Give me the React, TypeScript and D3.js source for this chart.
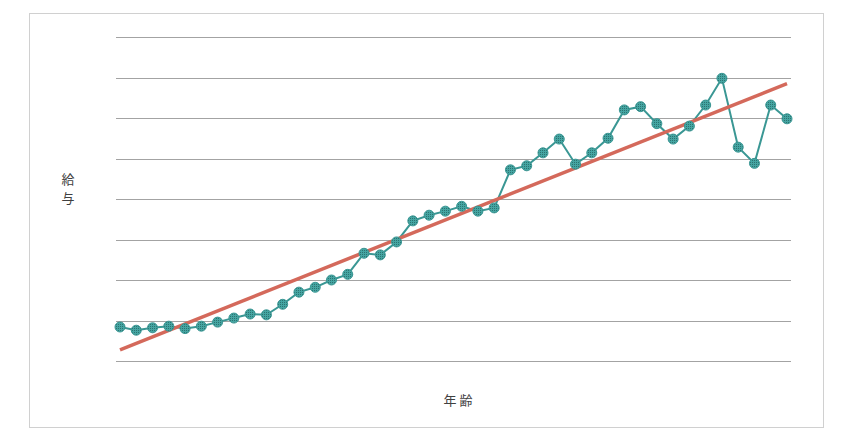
import React, { useRef, useEffect } from 'react';
import * as d3 from 'd3';

const ages = d3.range(20, 62);
const salary = [
  42, 38, 41, 43, 40, 43, 48, 53, 58, 57,
  70, 85, 91, 100, 107, 133, 131, 147, 173, 180,
  185, 191, 185, 189, 236, 241, 257, 274, 243, 257,
  275, 310, 314, 293, 274, 290, 316, 349, 264, 244,
  316, 299,
];
const gridTicks = [0, 50, 100, 150, 200, 250, 300, 350, 400];
const xTitle = '年 齢';
const yTitle = ['給', '与'];

const width = 851;
const height = 442;

const App: React.FC = () => {
  const svgRef = useRef<SVGSVGElement>(null);

  useEffect(() => {
    if (!svgRef.current) return;
    const svg = d3.select(svgRef.current);
    svg.selectAll('*').remove();

    const data = ages.map((a, i) => ({ age: a, value: salary[i] }));

    const xScale = d3.scaleLinear().domain([20, 61]).range([120, 787]);
    const yScale = d3.scaleLinear().domain([0, 400]).range([361, 37]);

    // dotted fill for markers
    const defs = svg.append('defs');
    const pat = defs
      .append('pattern')
      .attr('id', 'dots')
      .attr('width', 2)
      .attr('height', 2)
      .attr('patternUnits', 'userSpaceOnUse');
    pat.append('rect').attr('width', 2).attr('height', 2).attr('fill', '#45a5a2');
    pat.append('rect').attr('width', 1).attr('height', 1).attr('fill', '#2c7371');

    // outer frame
    svg
      .append('rect')
      .attr('x', 29.5)
      .attr('y', 13.5)
      .attr('width', 794)
      .attr('height', 414)
      .attr('fill', '#fff')
      .attr('stroke', '#d0d0d0');

    // grid lines
    svg
      .append('g')
      .selectAll('line')
      .data(gridTicks)
      .enter()
      .append('line')
      .attr('x1', 116)
      .attr('x2', 791)
      .attr('y1', (d) => Math.round(yScale(d)) + 0.5)
      .attr('y2', (d) => Math.round(yScale(d)) + 0.5)
      .attr('stroke', '#a3a3a3')
      .attr('stroke-width', 1);

    // data line
    const line = d3
      .line<{ age: number; value: number }>()
      .x((d) => xScale(d.age))
      .y((d) => yScale(d.value));

    svg
      .append('path')
      .datum(data)
      .attr('d', line)
      .attr('fill', 'none')
      .attr('stroke', '#3a9794')
      .attr('stroke-width', 2);

    // linear regression trend line
    const mx = d3.mean(data, (d) => d.age) || 0;
    const my = d3.mean(data, (d) => d.value) || 0;
    const sxy = d3.sum(data, (d) => (d.age - mx) * (d.value - my));
    const sxx = d3.sum(data, (d) => (d.age - mx) ** 2);
    const slope = sxy / sxx;
    const icpt = my - slope * mx;
    const x0 = ages[0];
    const x1 = ages[ages.length - 1];

    svg
      .append('line')
      .attr('x1', xScale(x0))
      .attr('y1', yScale(icpt + slope * x0))
      .attr('x2', xScale(x1))
      .attr('y2', yScale(icpt + slope * x1))
      .attr('stroke', '#d4695b')
      .attr('stroke-width', 3.5);

    // markers
    svg
      .append('g')
      .selectAll('circle')
      .data(data)
      .enter()
      .append('circle')
      .attr('cx', (d) => xScale(d.age))
      .attr('cy', (d) => yScale(d.value))
      .attr('r', 5)
      .attr('fill', 'url(#dots)')
      .attr('stroke', '#3a9794')
      .attr('stroke-width', 1);

    // axis titles
    svg
      .append('text')
      .attr('x', 458)
      .attr('y', 405)
      .attr('text-anchor', 'middle')
      .attr('font-family', '"Noto Sans CJK JP", sans-serif')
      .attr('font-size', 13)
      .attr('fill', '#404040')
      .text(xTitle);

    svg
      .append('g')
      .selectAll('text')
      .data(yTitle)
      .enter()
      .append('text')
      .attr('x', 68)
      .attr('y', (d, i) => 184 + i * 19)
      .attr('text-anchor', 'middle')
      .attr('font-family', '"Noto Sans CJK JP", sans-serif')
      .attr('font-size', 13)
      .attr('fill', '#404040')
      .text((d) => d);
  }, []);

  return (
    <svg
      ref={svgRef}
      width={width}
      height={height}
      style={{ position: 'absolute', left: 0, top: 0, display: 'block' }}
    />
  );
};

export default App;
